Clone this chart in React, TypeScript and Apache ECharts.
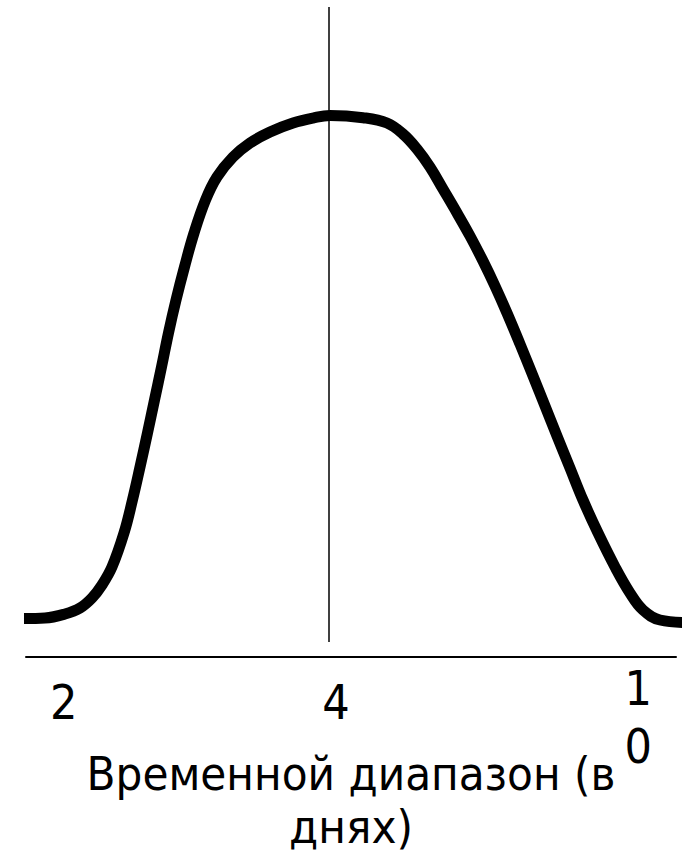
import React, { useEffect, useRef } from "react";
import * as echarts from "echarts";

// Horizontal position along the time range (0–100 across the axis) and relative level (0–100).
const curvePosition = [
  -0.31, 2.92, 6.0, 8.31, 10.15, 11.69, 13.23, 15.08, 16.38, 17.54, 18.69, 19.77, 20.85,
  21.92, 23.08, 24.38, 25.85, 27.62, 29.38, 31.85, 34.46, 37.54, 41.08, 44.15, 46.77, 51.85,
  55.54, 58.0, 60.15, 62.15, 64.15, 66.31, 68.31, 70.31, 72.15, 74.0, 76.0, 78.0, 79.85,
  81.69, 83.69, 85.69, 88.0, 90.62, 92.92, 94.92, 97.54, 101.85,
];
const curveLevel = [
  5.92, 6.0, 6.62, 7.54, 9.08, 11.08, 13.85, 19.08, 24.15, 29.23, 34.46, 39.54, 44.62,
  49.85, 54.92, 60.0, 65.23, 70.31, 73.85, 76.92, 79.08, 80.77, 82.15, 82.92, 83.31, 82.97,
  82.15, 80.46, 78.15, 75.38, 72.0, 68.31, 64.77, 60.92, 57.08, 52.92, 48.15, 43.23, 38.62,
  34.0, 29.08, 24.15, 19.08, 13.85, 9.85, 7.23, 5.69, 5.31,
];

// Tick labels (days) and where they sit along the axis.
const tickLabels = ["2", "4", "10"];
const tickPositions = [5.8, 47.7, 94.2];

// Reference marker at the peak of the distribution.
const markerPosition = 46.5;
const markerRange = [2.3, 100];

const axisTitle = "Временной диапазон (в\nднях)";
const FONT = "'DejaVu Sans Condensed', 'DejaVu Sans', sans-serif";

export default function App() {
  const ref = useRef<HTMLDivElement>(null);

  useEffect(() => {
    if (!ref.current) return;
    const chart = echarts.init(ref.current, null, { renderer: "svg" });

    const points = curvePosition.map((x, i) => [x, curveLevel[i]]);

    chart.setOption({
      animation: false,
      backgroundColor: "#ffffff",
      grid: {
        left: 26,
        right: 13,
        top: 7,
        bottom: 198,
        containLabel: false,
        outerBoundsMode: "none",
      },
      xAxis: {
        type: "value",
        min: 0,
        max: 100,
        splitLine: { show: false },
        axisTick: { show: false },
        axisLine: { show: true, onZero: false, lineStyle: { color: "#000", width: 2 } },
        axisLabel: {
          show: true,
          customValues: tickPositions,
          margin: 2,
          formatter: (value: number) => {
            const idx = tickPositions.findIndex((p) => Math.abs(p - value) < 1e-6);
            const text = idx >= 0 ? tickLabels[idx] : "";
            // Narrow label cell: multi-digit labels wrap one character per line
            if (text.length > 1) {
              return text
                .split("")
                .map((c) => `{m|${c}}`)
                .join("\n");
            }
            return `{s|${text}}`;
          },
          rich: {
            s: { fontSize: 48, lineHeight: 85, fontFamily: FONT, color: "#000" },
            m: { fontSize: 48, lineHeight: 58, fontFamily: FONT, color: "#000" },
          },
        },
        name: axisTitle,
        nameLocation: "middle",
        nameGap: 90,
        nameMoveOverlap: false,
        nameTextStyle: {
          fontSize: 47,
          lineHeight: 53,
          fontFamily: FONT,
          color: "#000",
          align: "center",
        },
      },
      yAxis: {
        type: "value",
        min: 0,
        max: 100,
        show: false,
        splitLine: { show: false },
      },
      series: [
        {
          type: "line",
          data: points,
          smooth: 0.4,
          showSymbol: false,
          clip: false,
          lineStyle: { color: "#000", width: 11, cap: "butt", join: "round" },
          markLine: {
            silent: true,
            symbol: "none",
            label: { show: false },
            lineStyle: { color: "#000", width: 1.5, type: "solid" },
            data: [
              [
                { coord: [markerPosition, markerRange[0]] },
                { coord: [markerPosition, markerRange[1]] },
              ],
            ],
          },
          z: 3,
        },
      ],
    });

    return () => chart.dispose();
  }, []);

  return (
    <div
      ref={ref}
      style={{ position: "fixed", left: 0, top: 0, width: 689, height: 855, background: "#fff" }}
    />
  );
}
